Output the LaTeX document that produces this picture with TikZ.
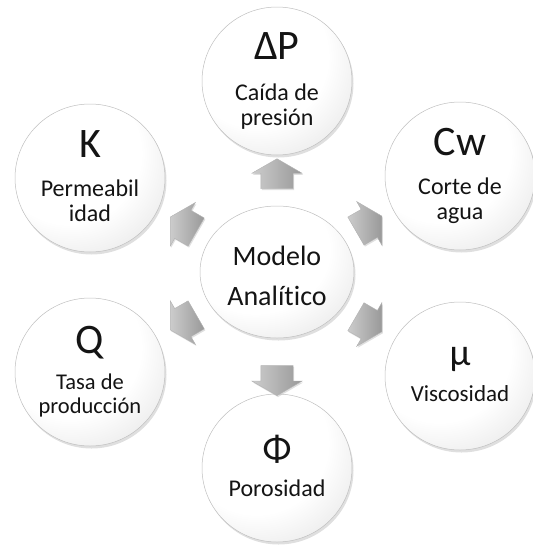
\documentclass[tikz,border=0pt]{standalone}
\usepackage{fontspec}
\setmainfont{Carlito}[Ligatures=NoCommon]
\usetikzlibrary{shapes.geometric,shapes.arrows,shadows,calc}

\pgfdeclareradialshading{bubbleshade}{\pgfpoint{-10bp}{12bp}}{%
  color(0bp)=(white); color(24bp)=(white); color(40bp)=(gray!20);
  color(52bp)=(gray!60); color(80bp)=(gray!66)}

\begin{document}
\begin{tikzpicture}[x=1pt, y=-1pt, text=black!92,
  bubble/.style={ellipse, minimum width=150pt, minimum height=148pt, inner sep=0pt,
    draw=gray!50, line width=0.5pt, shading=bubbleshade, align=center,
    drop shadow={opacity=0.25, shadow xshift=1.5pt, shadow yshift=-2.5pt},
    font=\fontsize{24}{25}\selectfont, text depth=4pt},
  blockarrow/.style={single arrow, minimum height=30pt, inner xsep=0pt, inner ysep=16pt,
    single arrow head extend=9pt, single arrow tip angle=120,
    draw=gray!60, line width=0.4pt, shading=axis, left color=gray!40, right color=gray!80,
    drop shadow={opacity=0.25, shadow xshift=1pt, shadow yshift=-1.5pt}}]
  \useasboundingbox (0,0) rectangle (533,547);

  \node[bubble, minimum width=154pt, minimum height=132pt, text height=72pt, text depth=6pt,
    font=\fontsize{28}{40}\selectfont] (model) at (277,272) {Modelo\\Analítico};
  \node[bubble] (dp) at (277,81) {{\fontsize{42}{42}\selectfont ΔP}\\[16pt]Caída de\\presión};
  \node[bubble] (perm) at (90,178) {{\fontsize{42}{42}\selectfont K}\\[14pt]Permeabil\\idad};
  \node[bubble] (cw) at (460,176) {{\fontsize{42}{42}\selectfont Cw}\\[14pt]Corte de\\agua};
  \node[bubble, font=\fontsize{22.5}{24}\selectfont] (rate) at (90,372)
    {{\fontsize{42}{42}\selectfont Q}\\[12pt]Tasa de\\producción};
  \node[bubble, font=\fontsize{23}{24}\selectfont] (visc) at (460,376)
    {{\fontsize{38}{38}\selectfont μ}\\[12pt]Viscosidad};
  \node[bubble] (poro) at (277,468)
    {{\fontsize{38}{38}\selectfont Φ}\\[10pt]Porosidad};

  \node[blockarrow, rotate=90] (a1) at ($(model)!0.49!(dp)$) {};
  \node[blockarrow, rotate=-90] (a2) at ($(model)!0.53!(poro)$) {};
  \node[blockarrow, rotate=150] (a3) at ($(model)!0.48!(perm)$) {};
  \node[blockarrow, rotate=30] (a4) at ($(model)!0.48!(cw)$) {};
  \node[blockarrow, rotate=210] (a5) at ($(model)!0.48!(rate)$) {};
  \node[blockarrow, rotate=-30] (a6) at ($(model)!0.48!(visc)$) {};
\end{tikzpicture}
\end{document}
